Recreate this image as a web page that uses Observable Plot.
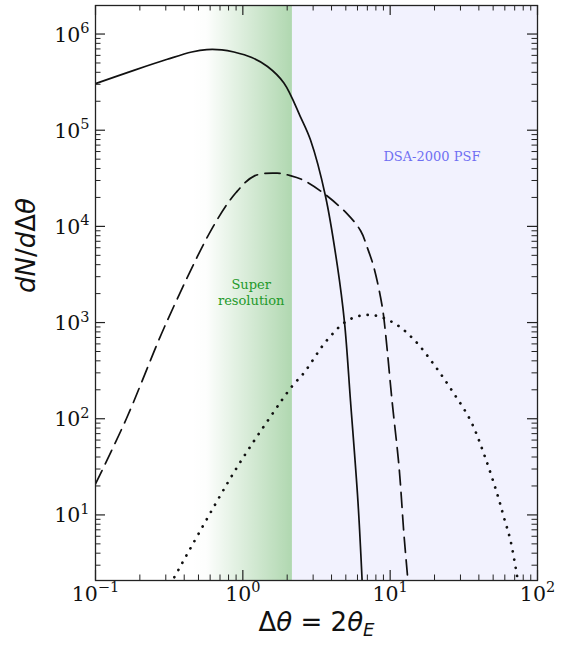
<!DOCTYPE html>
<html><head><meta charset="utf-8">
<script src="https://cdn.jsdelivr.net/npm/d3@7"></script>
<script src="https://cdn.jsdelivr.net/npm/@observablehq/plot@0.6"></script>
<style>
html,body{margin:0;padding:0;background:#fff;}
#chart svg{display:block;}
</style></head>
<body><div id="chart"></div>
<script>
// ---- data ----
// solid curve
const solidTheta = [0.1, 0.182, 0.307, 0.45, 0.57, 0.72, 0.87, 1.15, 1.47, 1.9, 2.47, 2.88, 3.64, 4.38, 4.9, 5.38, 6.04, 6.45];
const solidN     = [3.05e5, 4.19e5, 5.46e5, 6.5e5, 6.9e5, 6.85e5, 6.5e5, 5.7e5, 4.6e5, 3.1e5, 1.36e5, 7.9e4, 2.06e4, 3.9e3, 1.0e3, 153, 14, 2.08];
// dashed curve
const dashedTheta = [0.1, 0.162, 0.303, 0.63, 0.9, 1.2, 1.71, 2.1, 2.6, 3.55, 5.11, 6.3, 7.0, 7.77, 8.83, 9.3, 10.3, 11.5, 12.4, 13.2];
const dashedN     = [21, 100, 1000, 1.0e4, 2.25e4, 3.35e4, 3.58e4, 3.37e4, 3.0e4, 2.2e4, 1.35e4, 9.0e3, 6.0e3, 3.7e3, 1.47e3, 775, 153, 31, 6.3, 2.08];
// dotted curve
const dottedTheta = [0.343, 0.87, 1.54, 2.16, 2.6, 3.74, 5.25, 7.4, 10.6, 14.5, 19.8, 26.4, 35.2, 43.3, 53.3, 59.2, 65.6, 72.9];
const dottedN     = [2.25, 27.7, 105, 218, 300, 660, 1.07e3, 1.2e3, 990, 665, 367, 194, 95, 43, 16.5, 9.4, 5.4, 2.25];

// shaded regions (x extents)
const superResRange = [0.45, 2.17];
const psfRange = [2.17, 100];

// axis domains and ticks
const xDomain = [0.1, 100];
const yDomain = [2.08, 1.98e6];
const xMajor = [0.1, 1, 10, 100];
const xTickLabels = ["10^−1", "10^0", "10^1", "10^2"];
const yMajor = [10, 100, 1e3, 1e4, 1e5, 1e6];
const yTickLabels = ["10^1", "10^2", "10^3", "10^4", "10^5", "10^6"];
const minorMultipliers = [2, 3, 4, 5, 6, 7, 8, 9];
const xMinor = [0.1, 1, 10].flatMap(b => minorMultipliers.map(m => +(b * m).toPrecision(3)));
const yMinor = [1, 10, 100, 1e3, 1e4, 1e5, 1e6].flatMap(b => minorMultipliers.map(m => b * m))
  .filter(v => v > yDomain[0] && v < yDomain[1]);

// annotations
const superResLabel = {theta: 1.14, n: 2.1e3, text: "Super\nresolution"};
const psfLabel = {theta: 19.2, n: 5.25e4, text: "DSA-2000 PSF"};
const xLabel = "Δθ = 2θE";
const yLabel = "dN/dΔθ";

const toRows = (xs, ys) => xs.map((x, i) => ({x, y: ys[i]}));
const solid = toRows(solidTheta, solidN);
const dashed = toRows(dashedTheta, dashedN);
const dotted = toRows(dottedTheta, dottedN);

const W = 570, H = 646, mt = 5, mb = 66, ml = 95, mr = 33;
const innerH = H - mt - mb, innerW = W - ml - mr;
const axisColor = "#222";
const serif = "DejaVu Serif";

const defs = () => {
  const d = d3.create("svg:defs");
  const g = d.append("linearGradient").attr("id", "superresGrad")
    .attr("x1", 0).attr("x2", 1).attr("y1", 0).attr("y2", 0);
  g.append("stop").attr("offset", 0).attr("stop-color", "#008000").attr("stop-opacity", 0);
  g.append("stop").attr("offset", 0.15).attr("stop-color", "#008000").attr("stop-opacity", 0.01);
  g.append("stop").attr("offset", 1).attr("stop-color", "#008000").attr("stop-opacity", 0.31);
  return d.node();
};

const svg = Plot.plot({
  width: W, height: H,
  marginTop: mt, marginBottom: mb, marginLeft: ml, marginRight: mr,
  style: {background: "white", overflow: "visible"},
  x: {type: "log", domain: xDomain, axis: null},
  y: {type: "log", domain: yDomain, axis: null},
  marks: [
    defs,
    Plot.rect([psfRange], {x1: d => d[0], x2: d => d[1], y1: () => yDomain[0], y2: () => yDomain[1], fill: "#f2f2fe"}),
    Plot.rect([superResRange], {x1: d => d[0], x2: d => d[1], y1: () => yDomain[0], y2: () => yDomain[1], fill: "url(#superresGrad)"}),
    Plot.text([superResLabel], {x: "theta", y: "n", text: "text", fill: "#23992a", fontFamily: serif, fontSize: 13, lineHeight: 1.22}),
    Plot.text([psfLabel], {x: "theta", y: "n", text: "text", fill: "#6f6ff2", fontFamily: serif, fontSize: 13}),
    Plot.line(solid, {x: "x", y: "y", curve: "catmull-rom", stroke: "#111", strokeWidth: 1.7, clip: true}),
    Plot.line(dashed, {x: "x", y: "y", curve: "catmull-rom", stroke: "#111", strokeWidth: 1.7, strokeDasharray: "15,7.5", clip: true}),
    Plot.line(dotted, {x: "x", y: "y", curve: "catmull-rom", stroke: "#111", strokeWidth: 2.7, strokeDasharray: "0.1,8.2", strokeLinecap: "round", clip: true}),
    // ticks (inward, all four sides)
    Plot.tickX(xMajor, {x: d => d, insetTop: innerH - 10, stroke: axisColor, strokeWidth: 1.2}),
    Plot.tickX(xMajor, {x: d => d, insetBottom: innerH - 10, stroke: axisColor, strokeWidth: 1.2}),
    Plot.tickX(xMinor, {x: d => d, insetTop: innerH - 5.5, stroke: axisColor, strokeWidth: 1}),
    Plot.tickX(xMinor, {x: d => d, insetBottom: innerH - 5.5, stroke: axisColor, strokeWidth: 1}),
    Plot.tickY(yMajor, {y: d => d, insetRight: innerW - 10, stroke: axisColor, strokeWidth: 1.2}),
    Plot.tickY(yMajor, {y: d => d, insetLeft: innerW - 10, stroke: axisColor, strokeWidth: 1.2}),
    Plot.tickY(yMinor, {y: d => d, insetRight: innerW - 5.5, stroke: axisColor, strokeWidth: 1}),
    Plot.tickY(yMinor, {y: d => d, insetLeft: innerW - 5.5, stroke: axisColor, strokeWidth: 1}),
    Plot.frame({stroke: axisColor, strokeWidth: 1.3}),
    // tick labels
    Plot.text(xMajor, {x: d => d, text: (d, i) => xTickLabels[i], frameAnchor: "bottom", dy: 20, fontFamily: serif, fontSize: 20.5, fill: "#111"}),
    Plot.text(yMajor, {y: d => d, text: (d, i) => yTickLabels[i], frameAnchor: "left", textAnchor: "end", dx: -6, dy: 1, fontFamily: serif, fontSize: 20.5, fill: "#111"}),
    // axis labels
    Plot.text([xLabel], {text: d => d, frameAnchor: "bottom", dy: 50, fontFamily: "DejaVu Sans", fontSize: 26, fill: "#111"}),
    Plot.text([yLabel], {text: d => d, frameAnchor: "left", rotate: -90, dx: -69, fontFamily: "DejaVu Sans", fontSize: 26, fill: "#111"})
  ]
});

// rich-text formatting: superscripts, italics, subscript
svg.querySelectorAll("text").forEach(t => {
  const s = t.textContent;
  const m = s.match(/^10\^(.+)$/);
  if (m) {
    t.innerHTML = `10<tspan dy="-8.5" font-size="14.5">${m[1]}</tspan>`;
  } else if (s === xLabel) {
    t.innerHTML = `Δ<tspan font-style="italic">θ</tspan> = 2<tspan font-style="italic">θ</tspan><tspan font-style="italic" font-size="18" dy="5">E</tspan>`;
  } else if (s === yLabel) {
    t.innerHTML = `<tspan font-style="italic">dN</tspan>/<tspan font-style="italic">d</tspan>Δ<tspan font-style="italic">θ</tspan>`;
  }
});

document.getElementById("chart").appendChild(svg);
</script>
</body></html>
